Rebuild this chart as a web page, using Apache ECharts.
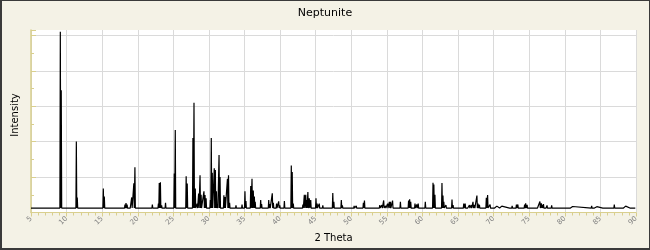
<!DOCTYPE html>
<html><head><meta charset="utf-8">
<script src="https://cdn.jsdelivr.net/npm/echarts@6/dist/echarts.min.js"></script>
<style>
html,body{margin:0;padding:0;background:#f4f2e6;}
#wrap{position:relative;width:650px;height:250px;}
#c{width:650px;height:250px;}
#frame{position:absolute;left:0;top:0;width:650px;height:250px;box-sizing:border-box;border:1px solid #3a3a3a;border-left-width:2px;border-bottom-width:2px;pointer-events:none;}
</style></head><body>
<div id="wrap"><div id="c"></div><div id="frame"></div></div>
<script>
const chartTitle = 'Neptunite';
const xAxisName = '2 Theta';
const yAxisName = 'Intensity';
const xTickLabels = [5,10,15,20,25,30,35,40,45,50,55,60,65,70,75,80,85,90];
const baseline = 2.5;
const peakTheta = [
 9.12, 9.25, 11.37, 11.5, 15.16, 15.3, 17.7, 18.2, 18.35, 18.5, 19.0, 19.15, 19.45, 19.6,
 22.05, 22.9, 23.02, 23.18, 23.35, 23.5, 23.9, 24.1, 25.13, 25.27, 26.8, 26.95,
 27.75, 27.9, 28.08, 28.35, 28.55, 28.75, 28.9, 29.3, 29.45, 29.6, 30.2, 30.33, 30.47,
 30.75, 30.9, 31.05, 31.2, 31.42, 31.56, 32.1, 32.25, 32.6, 32.75, 32.9, 33.8, 34.05,
 34.65, 35.06, 35.2, 35.87, 36.05, 36.23, 36.38, 36.5, 37.27, 37.4, 38.4, 38.55, 38.9,
 39.05, 39.5, 39.8, 39.95, 40.6, 41.57, 41.7, 41.85, 43.2, 43.4, 43.6, 43.72, 43.9, 44.1,
 44.3, 44.5, 45.04, 45.2, 45.5, 46.0, 46.8, 47.4, 47.55, 48.1, 48.6, 48.75, 49.4, 50.4,
 50.7, 51.7, 51.85, 52.0, 54.0, 54.3, 54.55, 54.8, 55.1, 55.35, 55.5, 55.8, 56.05, 56.9,
 58.05, 58.2, 58.35, 58.95, 59.2, 59.4, 60.4, 60.7, 61.48, 61.6, 61.75, 62.74, 62.88,
 63.0, 63.3, 64.15, 64.3, 65.8, 66.0, 66.3, 66.6, 66.85, 67.1, 67.3, 67.65, 67.8, 68.0,
 68.3, 68.97, 69.15, 69.3, 69.5, 70.2, 70.45, 70.9, 71.15, 72.3, 72.6, 73.2, 73.4, 73.6,
 74.0, 74.35, 74.5, 74.7, 75.3, 75.5, 75.8, 76.1, 76.4, 76.5, 76.7, 76.9, 77.0, 77.3,
 77.5, 78.15, 78.3, 78.6, 78.9, 79.7, 80.4, 80.85, 81.1, 83.77, 84.1, 84.5, 85.4, 86.1,
 86.95, 87.1, 87.7, 88.0, 88.3, 88.55, 89.2
];
const peakIntensity = [
 102, 69, 40, 8.5, 13.5, 9, 3.5, 4.5, 5.3, 4.5, 3.5, 8.5, 16.5, 25.5,
 4.5, 5, 16.6, 17, 4, 3.5, 5.5, 3, 22, 46.5, 20.5, 16.4,
 42, 62, 13.6, 5, 10.7, 21, 10, 12, 9.8, 8, 7, 42, 22.5,
 25, 24, 12, 4.5, 32.4, 20, 9.7, 8.7, 19, 21, 5.5, 4, 3.5,
 4.5, 12, 6.5, 15, 19, 12.4, 9, 6, 7, 4.7, 7, 4.7, 10.8,
 5.5, 5, 6.3, 4, 6.5, 26.5, 22.8, 5, 4.5, 10, 10, 7, 11.6, 8,
 7, 3.5, 8, 5, 5, 4, 3.5, 11, 6, 3.5, 7, 4, 3.2, 3.8,
 3.8, 5.5, 6.8, 3.2, 4.2, 4.2, 6.8, 3.8, 5, 6, 6, 6.7, 3.2, 6,
 6.7, 7.5, 6, 5, 4.5, 5, 6, 3.5, 16.8, 15.8, 10, 16.6, 9.6,
 6, 4.2, 7.3, 4.2, 5, 5, 3.5, 4.2, 4.2, 6, 4.2, 9.6, 5, 4.4,
 3.5, 8.3, 9.8, 3.5, 4.5, 3.6, 3.6, 3.6, 3.6, 3.6, 3.8, 4.5, 4.5, 3.6,
 3.3, 4.5, 5.2, 4.3, 3.6, 3.6, 3.3, 3.6, 3.6, 6.2, 5.2, 4.3, 4.7, 3.6,
 4, 4, 3.6, 3.6, 3.6, 3.4, 3.4, 3.6, 3.4, 3.7, 3.3, 3.3, 3.3, 3.6,
 4.5, 3.6, 3.3, 3.6, 3.3, 3.6, 3.4
];

// Build the profile line: each read peak drawn as a narrow spike from the baseline.
const halfWidth = 0.06;
const profile = [[5, baseline]];
peakTheta.forEach((t, i) => {
  profile.push([t - halfWidth, baseline], [t, peakIntensity[i]], [t + halfWidth, baseline]);
});
profile.push([89.9, baseline]);
profile.sort((a, b) => a[0] - b[0]);

const yellow = '#d9cf8e';
const gridGrey = '#dadada';
const chart = echarts.init(document.getElementById('c'), null, {renderer: 'canvas'});
chart.setOption({
  animation: false,
  backgroundColor: '#f4f2e6',
  textStyle: {fontFamily: 'DejaVu Sans'},
  title: {
    text: chartTitle, left: 'center', top: 3,
    textStyle: {fontSize: 11, fontWeight: 'normal', color: '#000', fontFamily: 'DejaVu Sans'}
  },
  grid: {left: 31, right: 14, top: 30, bottom: 37.5, show: true, backgroundColor: '#ffffff', borderWidth: 0},
  xAxis: {
    type: 'value', min: xTickLabels[0], max: xTickLabels[xTickLabels.length - 1], interval: 5,
    name: xAxisName, nameLocation: 'middle', nameGap: 19,
    nameTextStyle: {fontSize: 10, color: '#000', fontFamily: 'DejaVu Sans'},
    axisLine: {show: true, lineStyle: {color: yellow, width: 1}},
    axisTick: {show: true, length: 4, lineStyle: {color: yellow}},
    minorTick: {show: true, splitNumber: 5, length: 3, lineStyle: {color: yellow}},
    axisLabel: {rotate: 45, fontSize: 7, color: '#808080', margin: 5, fontFamily: 'DejaVu Sans'},
    splitLine: {show: true, lineStyle: {color: gridGrey, width: 1}}
  },
  yAxis: {
    type: 'value', min: 0, max: 103, interval: 20,
    axisLine: {show: true, lineStyle: {color: yellow, width: 1.5}},
    axisTick: {show: true, inside: true, length: 5, lineStyle: {color: yellow}},
    minorTick: {show: true, splitNumber: 2, length: 3, lineStyle: {color: yellow}},
    axisLabel: {show: false},
    splitLine: {show: true, showMaxLine: false, lineStyle: {color: gridGrey, width: 1}}
  },
  graphic: [{
    type: 'text', x: 15, y: 115, rotation: Math.PI / 2,
    style: {text: yAxisName, fill: '#000', font: '10px "DejaVu Sans"', textAlign: 'center', textVerticalAlign: 'middle'}
  }],
  series: [{
    type: 'line', data: profile, showSymbol: false, symbol: 'none',
    lineStyle: {color: '#000', width: 1.2}, clip: true
  }]
});
</script>
</body></html>
